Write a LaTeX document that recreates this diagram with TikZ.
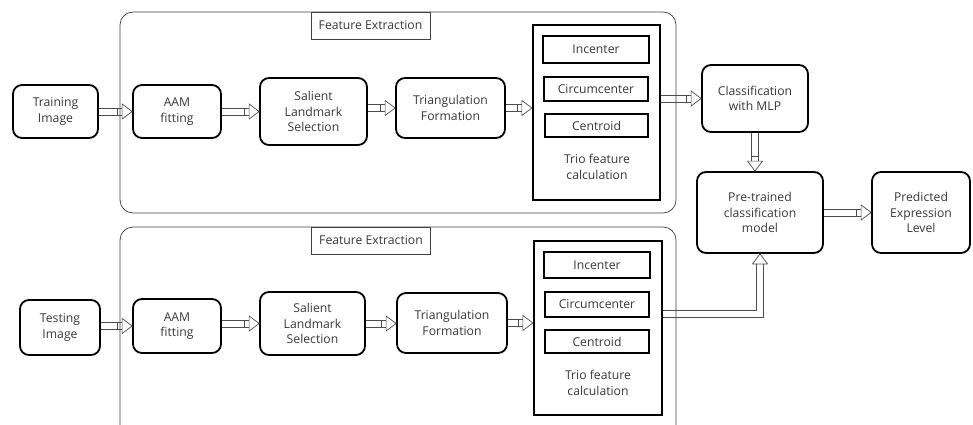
\documentclass[tikz,border=0pt]{standalone}
\usepackage{fontspec}
\setmainfont{Open Sans}
\usetikzlibrary{calc}
\definecolor{txt}{HTML}{383838}
% rightward hollow arrow
\newcommand\arrR[2]{%
  \path (#1) coordinate (aS) (#2) coordinate (aT);
  \draw[edge] ($(aS)+(0,-3.6)$) -- ($(aT)+(-10,-3.6)$)
              ($(aS)+(0,3.6)$) -- ($(aT)+(-10,3.6)$)
              ($(aT)+(-15,-3.6)$) -- ($(aT)+(-15,3.6)$);
  \draw[edge] ($(aT)+(-10,-7.5)$) -- (aT) -- ($(aT)+(-10,7.5)$) -- cycle;}
% downward hollow arrow
\newcommand\arrD[2]{%
  \path (#1) coordinate (aS) (#2) coordinate (aT);
  \draw[edge] ($(aS)+(-3.6,0)$) -- ($(aT)+(-3.6,-10)$)
              ($(aS)+(3.6,0)$) -- ($(aT)+(3.6,-10)$)
              ($(aT)+(-3.6,-15)$) -- ($(aT)+(3.6,-15)$);
  \draw[edge] ($(aT)+(-7.5,-10)$) -- (aT) -- ($(aT)+(7.5,-10)$) -- cycle;}
\begin{document}
\begin{tikzpicture}[x=1pt,y=-1pt,
  every node/.style={font=\fontsize{12.2}{15.5}\selectfont, text=txt, align=center},
  sz/.style 2 args={minimum width=#1pt, minimum height=#2pt},
  rbox/.style={draw=black, line width=1.8pt, rounded corners=9pt, inner sep=0pt},
  sbox/.style={draw=black, line width=2.3pt, inner sep=0pt},
  container/.style={draw=black!75, line width=0.7pt, rounded corners=13pt},
  flabel/.style={draw=black!75, line width=0.7pt, minimum width=119pt, minimum height=27pt, inner sep=0pt},
  edge/.style={draw=black!70, line width=0.7pt, line join=miter}]
\useasboundingbox (0,0) rectangle (973,425);

% containers
\draw[container] (120,12) rectangle (676,213);
\node[flabel] (fe1) at (370.5,25.5) {Feature Extraction};
\draw[container] (120,425) -- (120,227) -- (676,227) -- (676,425);
\node[flabel] (fe2) at (371,240.5) {Feature Extraction};

% top row
\node[rbox, sz={85}{53}] (train) at (55.5,111.5) {Training\\Image};
\node[rbox, sz={88}{53}] (aam1) at (177,111.5) {AAM\\fitting};
\node[rbox, sz={107}{67}] (sal1) at (313.5,111.5) {Salient\\Landmark\\Selection};
\node[rbox, sz={109}{60}] (tri1) at (450.5,108) {Triangulation\\Formation};
\node[sbox, sz={127}{175}] (trio1) at (596.5,112.5) {};
\node[sbox, sz={106}{27}] (inc1) at (596,49.5) {Incenter};
\node[sbox, sz={104}{24}] (circ1) at (596,89) {Circumcenter};
\node[sbox, sz={103}{23}] (cent1) at (596.5,125.5) {Centroid};
\node (tt1) at (597,167) {Trio feature\\calculation};

% right side
\node[rbox, sz={106}{67}] (class) at (755,98.5) {Classification\\with MLP};
\node[rbox, sz={126}{81}] (pre) at (760,212.5) {Pre-trained\\classification\\model};
\node[rbox, sz={98}{81}] (pred) at (921,212.5) {Predicted\\Expression\\Level};

% bottom row
\node[rbox, sz={80}{55}] (test) at (60,327.5) {Testing\\Image};
\node[rbox, sz={88}{54}] (aam2) at (177,326) {AAM\\fitting};
\node[rbox, sz={105}{63}] (sal2) at (312.5,323.5) {Salient\\Landmark\\Selection};
\node[rbox, sz={110}{60}] (tri2) at (452,323) {Triangulation\\Formation};
\node[sbox, sz={128}{174}] (trio2) at (598,328) {};
\node[sbox, sz={106}{26}] (inc2) at (597,265) {Incenter};
\node[sbox, sz={104}{25}] (circ2) at (597,304.5) {Circumcenter};
\node[sbox, sz={104}{23}] (cent2) at (597,341.5) {Centroid};
\node (tt2) at (598,383) {Trio feature\\calculation};

% arrows top
\arrR{train.east}{aam1.west}
\arrR{aam1.east}{sal1.west}
\arrR{sal1.east |- tri1.west}{tri1.west}
\arrR{tri1.east}{tri1.east -| trio1.west}
\arrR{trio1.east |- class.west}{class.west}
\arrD{class.south}{class.south |- pre.north}
\arrR{pre.east}{pred.west}

% arrows bottom
\arrR{test.east |- aam2.west}{aam2.west}
\arrR{aam2.east |- sal2.west}{sal2.west}
\arrR{sal2.east}{sal2.east -| tri2.west}
\arrR{tri2.east}{tri2.east -| trio2.west}

% elbow from bottom trio to pre-trained model
\coordinate (e1) at ($(trio2.east)+(0,-14)$);
\coordinate (ec) at (e1 -| pre.south);
\draw[edge] ($(e1)+(0,-3.5)$) -- ($(ec)+(-3.5,-3.5)$) -- ($(pre.south)+(-3.5,10)$)
            ($(e1)+(0,3.5)$) -- ($(ec)+(3.5,3.5)$) -- ($(pre.south)+(3.5,10)$);
\draw[edge] ($(pre.south)+(-7.5,10)$) -- (pre.south) -- ($(pre.south)+(7.5,10)$) -- cycle;
\end{tikzpicture}
\end{document}
